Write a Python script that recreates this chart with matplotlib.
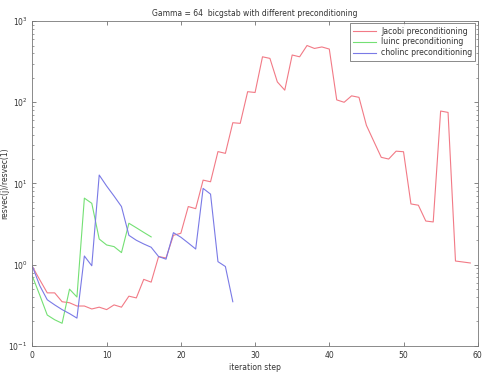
import matplotlib
matplotlib.use("Agg")
import matplotlib.pyplot as plt
import numpy as np

# residual history (resvec(j)/resvec(1))
jacobi = [0.95, 0.65, 0.45, 0.45, 0.35, 0.34, 0.31, 0.31, 0.285, 0.30,
          0.28, 0.32, 0.30, 0.41, 0.39, 0.66, 0.61, 1.26, 1.21, 2.3,
          2.44, 5.2, 4.9, 11.0, 10.5, 24.7, 23.5, 56.0, 55.0, 135.0,
          132.0, 363.0, 347.0, 178.0, 141.0, 382.0, 363.0, 500.0, 460.0, 480.0,
          452.0, 107.0, 100.0, 120.0, 115.0, 52.0, 33.0, 21.0, 20.0, 25.0,
          24.6, 5.6, 5.4, 3.45, 3.36, 78.0, 75.0, 1.11, 1.08, 1.05]
luinc = [0.72, 0.42, 0.24, 0.21, 0.19, 0.50, 0.40, 6.6, 5.7, 2.07,
         1.75, 1.67, 1.41, 3.24, 2.85, 2.5, 2.2]
cholinc = [0.95, 0.55, 0.37, 0.32, 0.28, 0.25, 0.22, 1.28, 0.97, 12.7,
           9.3, 7.0, 5.2, 2.3, 2.0, 1.8, 1.64, 1.26, 1.17, 2.48,
           2.18, 1.85, 1.56, 8.7, 7.4, 1.09, 0.95, 0.35]

series = [
    (jacobi, '#f27a86', 'Jacobi preconditioning'),
    (luinc, '#74e074', 'luinc preconditioning'),
    (cholinc, '#7a7ae6', 'cholinc preconditioning'),
]

fig = plt.figure(figsize=(4.91, 3.76), dpi=100)
ax = fig.add_axes([0.066, 0.080, 0.907, 0.864])

for values, color, label in series:
    ax.semilogy(np.arange(len(values)), values, color=color, lw=0.8, label=label)

ax.set_xlim(0, 60)
ax.set_ylim(1e-1, 1e3)
ax.set_xticks([0, 10, 20, 30, 40, 50, 60])
ax.tick_params(which='both', direction='in', top=True, right=True,
               labelsize=5.5, colors='#555555', labelcolor='#333333')
ax.tick_params(which='major', length=3, width=0.5)
ax.tick_params(which='minor', length=1.7, width=0.4)
for sp in ax.spines.values():
    sp.set_color('#777777')
    sp.set_linewidth(0.6)

ax.set_title('Gamma = 64  bicgstab with different preconditioning', fontsize=5.5,
             color='#333333', pad=4)
ax.set_xlabel('iteration step', fontsize=5.5, color='#333333', labelpad=2)
ax.set_ylabel('resvec(j)/resvec(1)', fontsize=5.5, color='#333333')
ax.yaxis.set_label_coords(-0.052, 0.5)

leg = ax.legend(loc='upper right', fontsize=5.6, frameon=True, fancybox=False,
                borderaxespad=0.3, handlelength=3.0, handletextpad=0.6,
                borderpad=0.4, labelspacing=0.25)
leg.get_frame().set_edgecolor('#555555')
leg.get_frame().set_linewidth(0.6)
for t in leg.get_texts():
    t.set_color('#333333')

fig.savefig('out.png', dpi=100)
